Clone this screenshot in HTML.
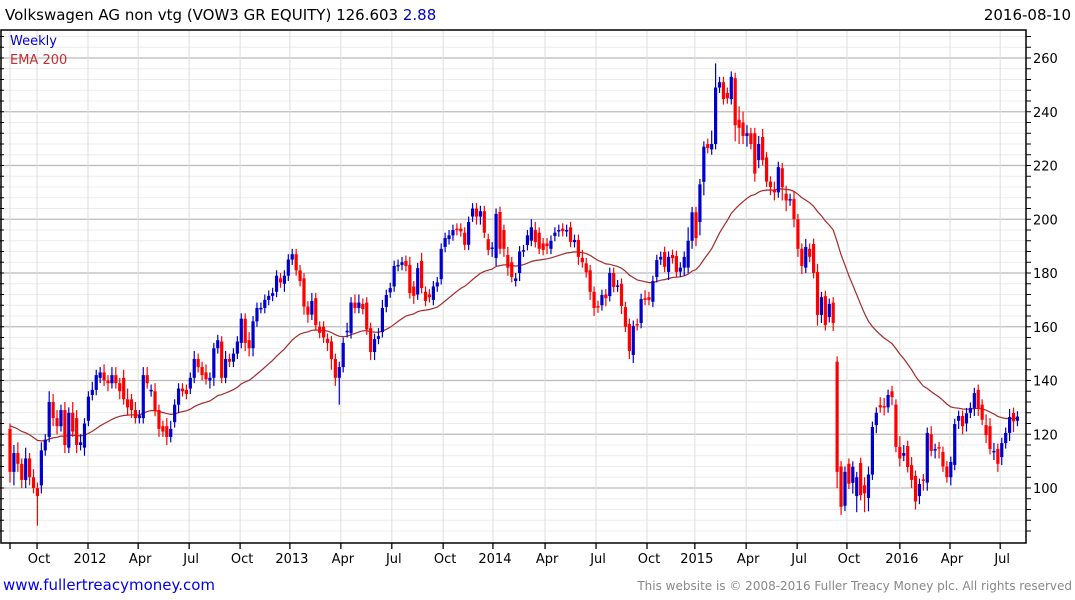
<!DOCTYPE html>
<html><head><meta charset="utf-8">
<style>
body{margin:0;background:#fff;width:1075px;height:600px;overflow:hidden;font-family:"DejaVu Sans","Liberation Sans",sans-serif;}
svg{display:block}
</style></head>
<body>
<svg id="chart" width="1075" height="600">
<text x="5" y="20" font-size="15" fill="#000">Volkswagen AG non vtg (VOW3 GR EQUITY) 126.603 <tspan fill="#0000cc">2.88</tspan></text>
<text x="1071" y="20" font-size="15" text-anchor="end" fill="#000">2016-08-10</text>
<g id="grid"></g>
<g id="ema"></g>
<g id="candles"></g>
<rect x="1" y="30" width="1025" height="513" fill="none" stroke="#000" stroke-width="1.5"/>
<g id="axes"></g>
<text x="10" y="45" font-size="13" fill="#0000cc">Weekly</text>
<text x="10" y="64" font-size="13" fill="#c03030">EMA 200</text>
<text x="3" y="590" font-size="15" fill="#0000ee">www.fullertreacymoney.com</text>
<text x="1072" y="590" font-size="12" text-anchor="end" fill="#888">This website is © 2008-2016 Fuller Treacy Money plc. All rights reserved</text>
</svg>
<script>
const opens=[122,106,113,109,103,111,104,100,101,114,119,132,126,123,129,115,128,126,116,115,125,134.6,136.5,141,143,140,139,142,139,141,133,133,129,126,126,142,136,136,129,123,123,119,124.5,131,137,136.5,137,141,148,145,143,140,141,152,154.5,141,148,147,150,154,163,155,152,162,167,167,170,171.5,173,178,176,179,185,187,181,178,167.5,164.5,170.6,160,160,155.5,154.5,148,141,145,158,157.6,169,167,168.5,169,159.5,150.6,155.5,158,167.4,172.8,175,182.6,183,184.5,183,175,172,184.5,173,172,170,175,177.7,189.7,192.6,194,196.5,196.5,195,190.5,201,204,201,203,192.6,189,185.6,202.7,196,186.7,184,177,180,188,190.4,192,196,195,191,191,189,193.8,195.5,196.5,195.5,197,191.5,192.3,185.6,183.6,181,173,167.7,168,172,171.4,180,175,176,167.3,161,149.5,161,161.4,170.6,171,169.3,178.5,185,187.8,180.4,186.7,186.3,180.5,182,182,192,202.6,199,213.9,228,226,228,249,251,247,244.7,252.5,237,236,231,232,232,222,230.6,223,214,211,210,219,209.5,207,207.5,200,189,182,189,190.8,180.4,164.4,171.4,163.6,169,147,108,93.4,109,101.9,97,109.3,101,96.3,105,123.4,130.8,130.5,130,136,131,115.3,112,115.6,108.5,104.5,97,103.2,102,120,114,115.2,113.4,108,104,108.6,125,126.8,124,128,129.8,136.5,131,123.4,123,113.4,114.5,111.5,116.7,120.5,127.9,125];
const closes=[106,113,109,103,111,104,100,97,114,118,132,126,123,129,116,128,121,116,117,124,134,136.5,142,143,140,139,142,139,136,133,130,129,126,127,142,139,136.5,128.7,122,121,119,122,131,137,136,135,141,148,145,142,140.5,141,152,155,141,148,147,150,154.5,163,154,152,162,167,167,170,171.5,172.5,179,176.5,179,185,187,181,177,167.5,164.5,169.6,160.6,157.7,156,154,148,141,145,154,158.5,169,167,169,166.6,159,150.6,155.4,156.5,167,171.8,174.4,182.6,183,184,182.6,172.5,171.5,181.8,174.4,169.6,171,175,176.5,189,193,194,196,196,195.5,190.5,199,204,201,203,195,188.6,189.5,202,189,189,182,178.5,178,188,188.5,194,197,191.5,189,188.6,190,192,195,196,195.6,196,191.6,192.3,186,184,180.3,173,167,167.2,171.8,170.6,180,174.8,175.4,167.7,160,151,160.3,160.6,170.3,170,170,177,184.8,186,182.3,186,185.5,180.4,182,186,192,202.6,193,213,227,226.5,228,249,251,244.7,245,253,235,234,231,232,228,217,228,222,214,212,210,219.4,212,207,207.5,200,189,182.6,189.7,186,180,164.4,171,160.6,168.5,161.4,106,93,106,101.6,107.9,104,97.4,98,105,122.7,128,130,130,134.6,133.8,115.3,111,113,107.8,103,95,101.5,103,120.5,113.8,114.5,115,108,104,109.7,123.8,126.8,123,127.8,129.8,135.3,129.8,125.4,119.7,114.5,113.8,109,116.7,120.5,126.4,124.8,126.6];
const wickUp=[2,3,4,2,4,2,3,2,3,2,4,3,3,2,3,2,4,3,3,2,2,3,2,2,3,2,3,3,2,3,4,2,3,2,3,3,2,3,2,2,3,3,2,2,2,2,2,3,2,2,3,2,2,2,2,3,2,2,2,2,2,3,2,2,2,2,2,2,2,2,2,2,2,2,2,2,2,3,2,2,2,2,2,2,2,2,3,2,3,3,2,2,2,2,3,3,2,2,2,2,2,2,3,2,2,3,2,2,2,2,2,2,2,2,2,2,2,2,2,2,2,2,2,2,2,2,2,3,2,2,2,2,2,3,3,2,2,2,2,2,2,2,2,2,2,2,3,2,2,2,2,2,2,2,2,2,2,2,2,2,2,2,3,2,2,2,2,2,2,2,2,2,2,5,2,2,2,2,2,5,9,2,2,2,2,2,5,4,3,2,2,3,3,2,2,3,2,2,3,2,3,2,2,3,2,2,3,2,2,2,2,2,2,2,2,2,2,2,3,3,2,2,3,3,2,2,2,4,3,2,3,2,2,2,2,3,2,2,2,2,2,2,2,2,2,2,2,2,2,4,3,3,2,2,2,3,2,2,2,2,2,2];
const wickDn=[4,5,3,3,3,3,2,11,3,2,2,3,3,2,3,2,2,3,2,3,2,2,2,2,2,3,2,2,3,2,3,3,2,2,2,2,2,2,3,2,3,2,2,3,2,2,2,2,2,2,2,3,3,2,2,2,2,2,2,2,3,3,3,2,2,2,2,2,2,2,3,2,2,2,2,3,3,2,2,2,2,3,4,3,10,2,2,2,2,2,2,2,3,3,2,2,2,2,2,2,2,2,2,3,2,2,2,2,2,2,2,2,2,2,2,2,2,2,2,3,3,2,2,3,3,2,3,3,2,2,3,2,2,2,2,2,2,3,2,2,2,2,2,2,2,3,2,2,3,3,2,2,3,2,2,2,3,2,3,3,2,2,2,2,2,2,2,2,3,2,2,2,3,2,3,3,5,5,2,2,2,2,2,2,2,6,6,3,4,2,3,3,2,2,3,3,2,5,4,2,3,3,3,2,2,2,4,3,2,2,3,6,3,2,2,4,6,2,7,5,2,3,2,3,2,3,2,3,2,2,3,3,3,4,3,2,3,4,2,2,3,2,3,3,3,2,3,3,2,3,2,3,3,3,2,3,4,2,3,2,3,3,4,3];
const yTicks=[100,120,140,160,180,200,220,240,260];
const monthLabels=["","Oct","2012","Apr","Jul","Oct","2013","Apr","Jul","Oct","2014","Apr","Jul","Oct","2015","Apr","Jul","Oct","2016","Apr","Jul"];
const monthWeeks=[0,6.9,19.9,32.7,45.7,58.7,71.4,84.4,97.4,110.5,123.2,136.5,149.5,162.5,174.7,187.8,200.8,213.5,227,239.8,252.6];
const emaSeed=124;
const emaPeriod=40;

const NS="http://www.w3.org/2000/svg";
const X0=10,STEP=3.92,N=closes.length;
function xs(i){return X0+i*STEP;}
function ys(p){return 488-(p-100)*2.6875;}
function mk(tag,attrs,parent){const e=document.createElementNS(NS,tag);for(const k in attrs)e.setAttribute(k,attrs[k]);parent.appendChild(e);return e;}
const grid=document.getElementById('grid'),axes=document.getElementById('axes'),cg=document.getElementById('candles'),eg=document.getElementById('ema');
for(let v=84;v<=268;v+=4){const y=ys(v);if(y<31||y>542)continue;
 const major=(v%20===0);
 const l=mk('line',{x1:1,x2:1026,y1:y,y2:y,stroke:major?'#bbbbbb':'#ececec','stroke-width':major?1.3:1},grid);
 
 
 const t=mk('line',{x1:1026,x2:1031,y1:y,y2:y,stroke:'#000'},axes);
 
 
 const lt=mk('line',{x1:0,x2:4,y1:y,y2:y,stroke:'#000'},axes);
 
 
}
yTicks.forEach(v=>{const t=mk('text',{x:1033,y:ys(v)+5,'font-size':13,fill:'#000'},axes);t.textContent=v;
 
 });
monthWeeks.forEach((w,k)=>{const x=xs(w);
 const l=mk('line',{x1:x,x2:x,y1:31,y2:542,stroke:'#dddddd'},grid);
 
 
 const t=mk('line',{x1:x,x2:x,y1:543,y2:549,stroke:'#000','stroke-width':1.3},axes);
 
 
 if(monthLabels[k]){const tx=mk('text',{x:x+2,y:563,'font-size':13,'text-anchor':'middle',fill:'#000'},axes);tx.textContent=monthLabels[k];
 
 }
});
let e=emaSeed,a=2/(emaPeriod+1),pts=[];
for(let i=0;i<N;i++){e=e+a*(closes[i]-e);pts.push(xs(i).toFixed(1)+','+ys(e).toFixed(1));}
const pl=mk('polyline',{points:pts.join(' '),fill:'none',stroke:'#a52a2a','stroke-width':1.2},eg);


for(let i=0;i<N;i++){const o=opens[i],c=closes[i],x=xs(i);const col=c>=o?'#0000cc':'#ff0000';
 const hi=Math.max(o,c)+(wickUp[i]||2),lo=Math.min(o,c)-(wickDn[i]||2);
 const w=mk('line',{x1:x,x2:x,y1:ys(hi),y2:ys(lo),stroke:col,'stroke-width':1.2},cg);
 
 
 const top=ys(Math.max(o,c)),h=Math.max(1.5,ys(Math.min(o,c))-top);
 const r=mk('rect',{x:x-1.6,y:top,width:3.2,height:h,fill:col},cg);
 
 
}
</script>
</body></html>
